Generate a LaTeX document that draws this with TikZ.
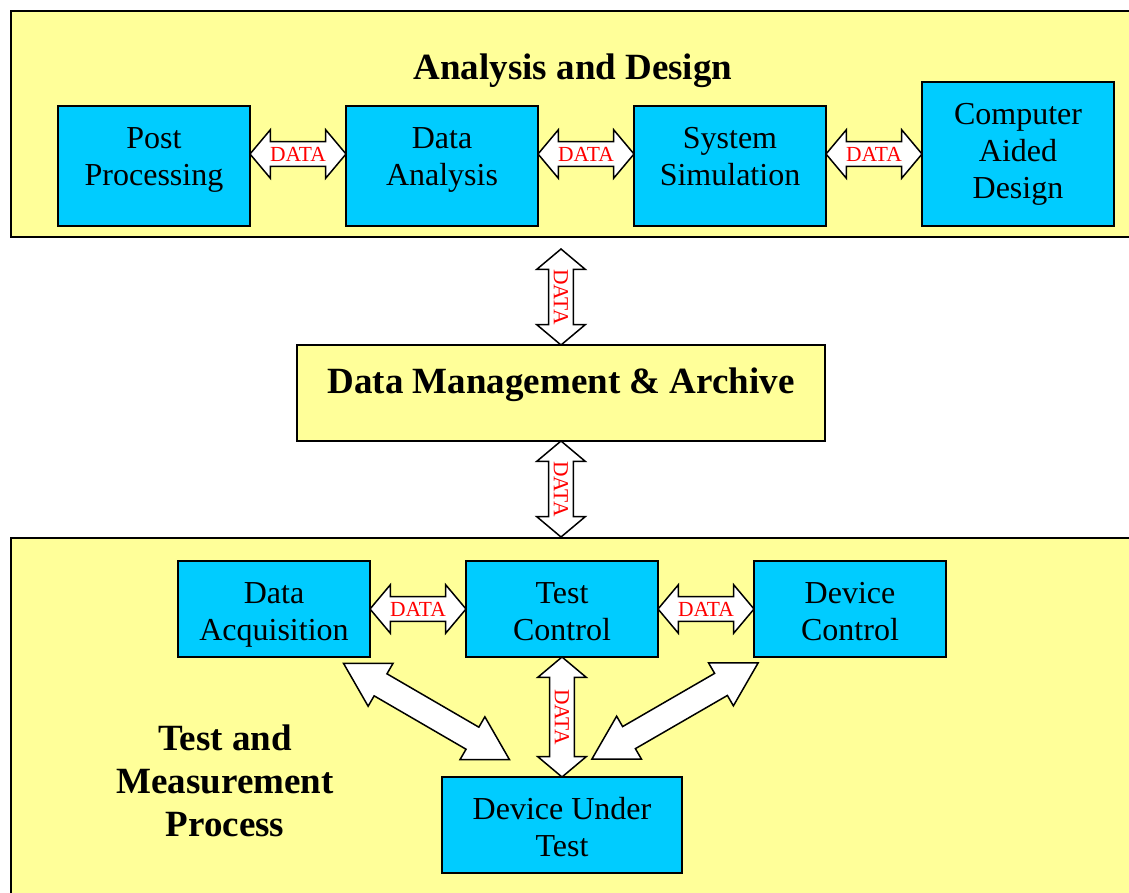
\documentclass[tikz,border=0pt]{standalone}
\usepackage{fontspec}
\setmainfont{Liberation Serif}
\usetikzlibrary{positioning,shapes.arrows}

\definecolor{paleyellow}{HTML}{FFFF99}
\definecolor{boxcyan}{HTML}{00CCFF}

\begin{document}
\begin{tikzpicture}[x=1pt,y=-1pt,line width=1.5pt,node distance=96pt,
    panel/.style={draw,fill=paleyellow,rectangle,anchor=north west,inner sep=0pt},
    main box/.style={draw,fill=boxcyan,rectangle,align=center,minimum width=192pt,minimum height=120pt,inner sep=0pt,outer sep=0pt,font=\fontsize{32}{37}\selectfont},
    top box/.style={main box,text height=60pt,text depth=22pt},
    low box/.style={main box,minimum height=96pt,text height=62pt,text depth=0pt},
    title/.style={align=center,font=\fontsize{37}{43}\selectfont\bfseries},
    data arrow/.style={double arrow,draw,fill=white,inner xsep=0pt,inner ysep=4.5pt,minimum width=47pt,double arrow head extend=12pt,double arrow tip angle=100,minimum height=96pt,text=red,font=\fontsize{21.5}{21.5}\selectfont},
    big arrow/.style={data arrow,inner ysep=12pt,minimum height=192pt,double arrow tip angle=60}]

    \clip (0,0) rectangle (1129,892);

    \node[panel,minimum width=1140pt,minimum height=226pt] (ad) at (10,10) {};
    \node[panel,minimum width=1140pt,minimum height=400pt] (tm) at (10,537) {};

    \node[title] (adtitle) at (573,71) {Analysis and Design};
    \node[top box,anchor=north west] (pp) at (58,106) {Post\\Processing};
    \node[top box,right=of pp] (da) {Data\\Analysis};
    \node[top box,right=of da] (ss) {System\\Simulation};
    \node[main box,minimum height=144pt,right=of ss.south east,anchor=south west] (cad) {Computer\\Aided\\Design};

    \node[main box,fill=paleyellow,minimum width=528pt,minimum height=96pt,text height=13pt,text depth=13pt,font=\fontsize{37}{43}\selectfont\bfseries] (dm) at (561,393) {Data Management \& Archive};

    \node[low box,anchor=north west] (dacq) at (178,561) {Data\\Acquisition};
    \node[low box,right=of dacq] (tc) {Test\\Control};
    \node[low box,right=of tc] (dctl) {Device\\Control};
    \node[low box,minimum width=240pt,below=120pt of tc] (dut) {Device Under\\Test};
    \node[title] (tmtitle) at (225,781) {Test and\\Measurement\\Process};

    \path (pp.east |- cad) -- (da.west |- cad) node[midway,sloped,data arrow] {DATA};
    \path (da.east |- cad) -- (ss.west |- cad) node[midway,sloped,data arrow] {DATA};
    \path (ss.east |- cad) -- (cad.west) node[midway,sloped,data arrow] {DATA};
    \path ([yshift=96pt]dm.north) -- (dm.north) node[midway,sloped,data arrow] {DATA};
    \path (dm.south) -- (dm.south |- tm.north) node[midway,sloped,data arrow] {DATA};
    \path (dacq.east) -- (tc.west) node[midway,sloped,data arrow] {DATA};
    \path (tc.east) -- (dctl.west) node[midway,sloped,data arrow] {DATA};
    \path (tc.south) -- (dut.north) node[midway,sloped,data arrow,minimum height=120pt] {DATA};
    \path ([xshift=-27pt,yshift=-6pt]dacq.south east) -- ([xshift=-52pt,yshift=17pt]dut.north) node[midway,sloped,big arrow] {};
    \path ([xshift=4pt,yshift=-6pt]dctl.south west) -- ([xshift=30pt,yshift=18pt]dut.north) node[midway,sloped,big arrow] {};
\end{tikzpicture}
\end{document}
